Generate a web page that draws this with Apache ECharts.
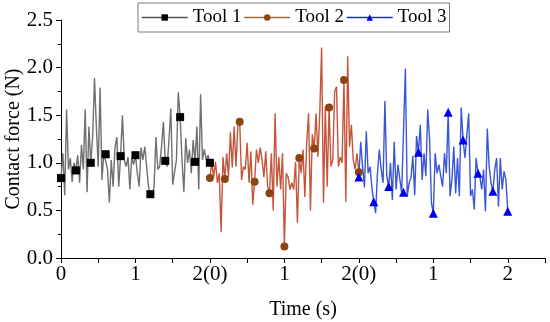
<!DOCTYPE html>
<html>
<head>
<meta charset="utf-8">
<script src="https://cdn.jsdelivr.net/npm/echarts@6/dist/echarts.min.js"></script>
<style>html,body{margin:0;padding:0;background:#fff}#c{width:550px;height:322px}</style>
</head>
<body>
<div id="c"></div>
<script>
// Time step between samples (s); a marker every 8 samples (0.2 s)
const step = 0.025;
const markerEvery = 8;
const seriesNames = ['Tool 1', 'Tool 2', 'Tool 3'];
const seriesStart = [0, 2, 4];
const xTickLabels = {0: '0', 1: '1', 2: '2(0)', 3: '1', 4: '2(0)', 5: '1', 6: '2'};

const tool1 = [
  0.84, 1.10, 0.66, 1.56, 0.93, 1.05, 0.80, 1.00,
  0.92, 1.08, 0.79, 1.19, 0.93, 1.56, 0.69, 1.38,
  1.00, 1.27, 1.89, 1.37, 0.96, 1.79, 0.82, 1.10,
  1.09, 0.93, 0.58, 1.03, 0.75, 1.16, 1.27, 0.75,
  1.07, 1.50, 1.03, 0.96, 1.06, 0.72, 1.06, 0.98,
  1.08, 0.89, 0.75, 1.16, 1.03, 1.17, 0.96, 0.75,
  0.67, 0.63, 0.75, 1.27, 0.93, 0.96, 1.17, 1.43,
  1.02, 0.96, 1.24, 1.57, 0.77, 0.77, 1.03, 1.74,
  1.48, 1.03, 0.69, 1.26, 1.00, 1.14, 0.89, 1.24,
  1.01, 1.38, 0.72, 1.72, 1.03, 1.14, 1.03, 1.08,
  1.00
];
const tool2 = [
  0.84, 1.00, 0.85, 1.01, 0.79, 0.89, 0.27, 1.06,
  0.83, 1.10, 0.85, 1.32, 0.95, 1.38, 0.96, 1.40,
  1.43, 0.82, 0.96, 0.93, 1.21, 0.79, 1.12, 0.56,
  0.80, 1.14, 1.00, 1.16, 1.03, 0.85, 1.12, 0.75,
  0.68, 1.10, 0.50, 1.52, 0.75, 1.06, 0.72, 1.10,
  0.12, 0.89, 0.85, 0.72, 0.79, 0.72, 1.01, 0.37,
  1.05, 0.89, 1.14, 0.64, 1.21, 1.52, 0.50, 1.30,
  1.15, 1.52, 1.06, 1.52, 2.21, 0.58, 1.59, 0.75,
  1.58, 0.96, 1.03, 1.75, 1.80, 0.96, 1.06, 1.00,
  1.87, 0.59, 2.12, 1.17, 1.40, 1.03, 0.93, 1.10,
  0.90
];
const tool3 = [
  0.85, 1.22, 0.96, 0.74, 1.33, 0.89, 0.96, 0.74,
  0.59, 0.47, 0.89, 1.14, 0.93, 0.79, 1.65, 0.86,
  0.75, 1.00, 0.61, 1.22, 0.72, 0.98, 0.96, 0.68,
  0.69, 1.99, 0.65, 0.79, 0.84, 1.07, 0.66, 1.28,
  1.11, 1.40, 0.82, 1.10, 0.86, 1.56, 1.24, 0.58,
  0.47, 1.10, 0.89, 0.98, 0.86, 0.75, 1.10, 0.89,
  1.53, 0.65, 0.82, 1.17, 0.68, 1.05, 0.65, 1.58,
  1.24, 1.05, 1.03, 1.52, 0.65, 0.72, 0.51, 1.05,
  0.89, 0.86, 0.72, 0.93, 0.49, 1.36, 0.96, 0.79,
  0.70, 0.93, 1.05, 0.54, 1.05, 0.72, 0.91, 0.82,
  0.49
];

const allValues = [tool1, tool2, tool3];
const lineColors = ['#707070', '#c4553a', '#3a56d8'];
const markerColors = ['#000000', '#8b4513', '#0000ee'];
const legendLineColors = ['#555555', '#9a6a3a', '#1a2ee0'];
const symbols = ['rect', 'circle', 'triangle'];
const symbolSizes = [8, 8, 9];

const FONT = 'Liberation Serif';

function buildData(vals, start) {
  return vals.map((v, i) => {
    const item = {value: [start + i * step, v]};
    if (i % markerEvery !== 0) item.symbol = 'none';
    return item;
  });
}

const series = allValues.map((vals, k) => ({
  name: seriesNames[k],
  type: 'line',
  data: buildData(vals, seriesStart[k]),
  symbol: symbols[k],
  symbolSize: symbolSizes[k],
  showAllSymbol: true,
  lineStyle: {color: lineColors[k], width: 1.4},
  itemStyle: {color: markerColors[k]},
  emphasis: {disabled: true},
  animation: false
}));

const chart = echarts.init(document.getElementById('c'));
chart.setOption({
  animation: false,
  grid: {left: 61, right: 5, top: 20, bottom: 64, containLabel: false, outerBoundsMode: 'none'},
  legend: {
    top: 3,
    left: 138,
    orient: 'horizontal',
    itemWidth: 46,
    itemHeight: 8,
    itemGap: 2,
    padding: [5, 3, 5, 3],
    borderColor: '#7a7a7a',
    borderWidth: 1,
    textStyle: {fontFamily: FONT, fontSize: 19, color: '#000'},
    data: seriesNames.map((n, k) => ({
      name: n,
      itemStyle: {color: markerColors[k]},
      lineStyle: {color: legendLineColors[k], width: 1.4}
    }))
  },
  xAxis: {
    type: 'value',
    min: 0,
    max: 6.5,
    interval: 0.5,
    name: 'Time (s)',
    nameLocation: 'middle',
    nameGap: 42,
    nameMoveOverlap: false,
    nameTextStyle: {fontFamily: FONT, fontSize: 20, color: '#000'},
    axisLine: {show: true, onZero: false, lineStyle: {color: '#000', width: 1}},
    axisTick: {show: true, inside: false, length: 5, lineStyle: {color: '#000'}},
    axisLabel: {
      fontFamily: FONT, fontSize: 21, color: '#000', margin: 6,
      showMinLabel: true, showMaxLabel: true,
      formatter: v => (Number.isInteger(v) && xTickLabels[v] !== undefined) ? xTickLabels[v] : ''
    },
    splitLine: {show: false}
  },
  yAxis: {
    type: 'value',
    min: 0,
    max: 2.5,
    interval: 0.5,
    name: 'Contact force (N)',
    nameLocation: 'middle',
    nameGap: 37,
    nameMoveOverlap: false,
    nameTextStyle: {fontFamily: FONT, fontSize: 20, color: '#000'},
    axisLine: {show: true, lineStyle: {color: '#000', width: 1}},
    axisTick: {show: true, inside: false, length: 5, lineStyle: {color: '#000'}},
    minorTick: {show: true, splitNumber: 2, length: 3, lineStyle: {color: '#000'}},
    axisLabel: {
      fontFamily: FONT, fontSize: 21, color: '#000', margin: 8,
      formatter: v => v.toFixed(1)
    },
    splitLine: {show: false}
  },
  series: series
});
</script>
</body>
</html>
